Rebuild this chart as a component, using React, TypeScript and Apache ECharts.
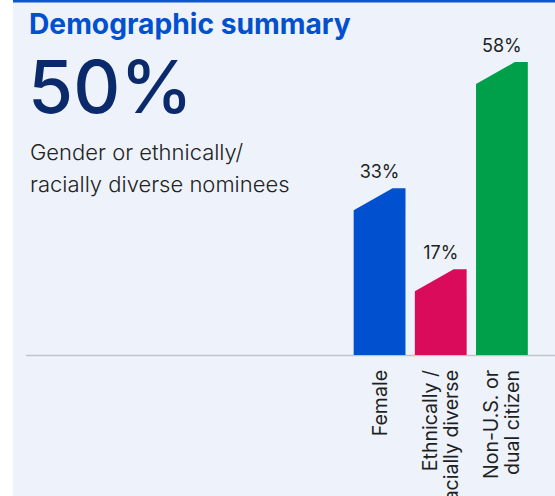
import React, { useEffect, useRef } from "react";
import * as echarts from "echarts";

const categories = ["Female", "Ethnically /\nracially diverse", "Non-U.S. or\ndual citizen"];
const values = [33, 17, 58];
const barColors = ["#0050d0", "#db0b5b", "#00a04b"];
const titleText = "Demographic summary";
const headlineValue = "50%";
const subtitleLines = ["Gender or ethnically/", "racially diverse nominees"];

export default function App() {
  const ref = useRef<HTMLDivElement>(null);
  useEffect(() => {
    const chart = echarts.init(ref.current!, null, { renderer: "svg" });
    const font = "Inter, 'Noto Sans', sans-serif";
    chart.setOption({
      animation: false,
      backgroundColor: "#ffffff",
      grid: { left: 349, right: 22.5, top: 52, bottom: 141, containLabel: false, outerBoundsMode: "none" },
      xAxis: {
        type: "category",
        data: categories,
        axisLine: { show: false },
        axisTick: { show: false },
        axisLabel: {
          rotate: 90,
          fontSize: 19.5,
          lineHeight: 21,
          color: "#1f1f1f",
          fontFamily: font,
          margin: 15,
          interval: 0,
        },
      },
      yAxis: {
        type: "value",
        min: 0,
        max: 60,
        show: false,
        splitLine: { show: false },
      },
      graphic: [
        { type: "rect", z: -10, shape: { x: 13, y: 0, width: 542, height: 496 }, style: { fill: "#eef3fb" } },
        { type: "rect", z: -9, shape: { x: 13, y: 0, width: 542, height: 2.5 }, style: { fill: "#0b57d0" } },
        { type: "line", z: -5, shape: { x1: 26, y1: 355.5, x2: 555, y2: 355.5 }, style: { stroke: "#c3c3c7", lineWidth: 1.5 } },
        {
          type: "text", left: 29, top: 10,
          style: { text: titleText, fontSize: 28.2, lineHeight: 28, fontWeight: "bold", fill: "#0050d0", fontFamily: font },
        },
        {
          type: "text", left: 28, top: 50,
          style: { text: headlineValue, fontSize: 73, lineHeight: 60, fontWeight: 500, fill: "#0b2a6b", fontFamily: font },
        },
        {
          type: "text", left: 30, top: 136,
          style: { text: subtitleLines.join("\n"), fontSize: 22, lineHeight: 32, fontWeight: 300, fill: "#222222", fontFamily: font },
        },
      ],
      series: [
        {
          type: "custom",
          data: values.map((v, i) => [i, v]),
          renderItem: (params: any, api: any) => {
            const idx = api.value(0);
            const val = api.value(1);
            const top = api.coord([idx, val]);
            const base = api.coord([idx, 0]);
            const band = api.size([1, 0])[0];
            const w = band * 0.847;
            const x0 = top[0] - w / 2;
            const x1 = top[0] + w / 2;
            const slantW = w * 0.75;
            const drop = 22;
            return {
              type: "group",
              children: [
                {
                  type: "polygon",
                  shape: {
                    points: [
                      [x0, base[1]],
                      [x0, top[1] + drop],
                      [x0 + slantW, top[1]],
                      [x1, top[1]],
                      [x1, base[1]],
                    ],
                  },
                  style: { fill: barColors[idx] },
                },
                {
                  type: "text",
                  x: top[0],
                  y: top[1] - 8,
                  style: {
                    text: val + "%",
                    fontSize: 18,
                    fill: "#1f1f1f",
                    fontFamily: font,
                    align: "center",
                    verticalAlign: "bottom",
                  },
                },
              ],
            };
          },
        },
      ],
    });
    return () => chart.dispose();
  }, []);
  return <div ref={ref} style={{ width: 555, height: 496, position: "absolute", left: 0, top: 0 }} />;
}
